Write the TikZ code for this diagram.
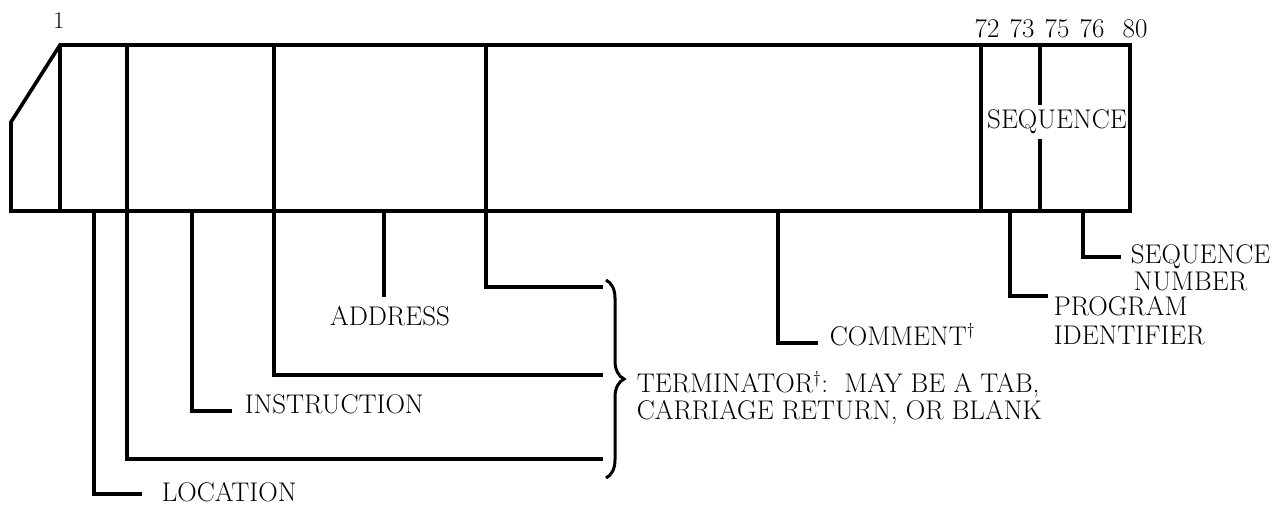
\documentclass[tikz,border=0pt]{standalone}
\usetikzlibrary{decorations.pathreplacing}
\begin{document}
\begin{tikzpicture}[x=1pt,y=-1pt,line width=3.6pt,line join=miter,
  lbl/.style={inner sep=0pt,font=\fontsize{27}{29}\selectfont},
  num/.style={inner sep=0pt,font=\fontsize{27}{29}\selectfont},
  lead/.style={line width=3.4pt}]
\useasboundingbox (0,0) rectangle (1275,507);
% card
\coordinate (tl) at (60,45);
\coordinate (tr) at (1130,45);
\coordinate (br) at (1130,211);
\coordinate (bl) at (11,211);
\coordinate (cut) at (11,122);
\draw (tl) -- (tr) -- (br) -- (bl) -- (cut) -- cycle;
\foreach \x/\n in {60/a,127/b,274/c,486/d,981/e,1040/f}{
  \coordinate (top\n) at (\x,45);
  \coordinate (bot\n) at (\x,211);
  \draw (top\n) -- (bot\n);
}
\node[lbl,fill=white,inner ysep=5pt] (seq) at (1057,122) {SEQUENCE};
% column numbers
\node[inner sep=0pt,font=\fontsize{24}{26}\selectfont] (n1) at (59,21) {1};
\node[num] (n72) at (987,29) {72};
\node[num] (n73) at (1022,29) {73};
\node[num] (n75) at (1057,29) {75};
\node[num] (n76) at (1092,29) {76};
\node[num] (n80) at (1135,29) {80};
% labels
\node[lbl,anchor=west] (loc) at (160,492) {LOCATION};
\node[lbl,anchor=west] (ins) at (243,404) {INSTRUCTION};
\node[lbl] (adr) at (390,316) {ADDRESS};
\node[lbl,anchor=base west] (com) at (828,345) {COMMENT$^\dagger$};
\node[lbl,anchor=west,align=left,font=\fontsize{27}{29}\selectfont] (pid) at (1052,321) {PROGRAM\\IDENTIFIER};
\node[lbl,anchor=west,align=left,font=\fontsize{27}{27}\selectfont] (sqn) at (1129,268) {SEQUENCE\\\hspace{3pt}NUMBER};
\node[lbl,anchor=west,align=left,font=\fontsize{27}{27}\selectfont] (term) at (635,398) {TERMINATOR$^\dagger$:\ \ MAY BE A TAB,\\CARRIAGE RETURN,\ OR BLANK};
% leader coordinates
\coordinate (locA) at (94,211);   \coordinate (locB) at (142,494);
\coordinate (insA) at (192,211);  \coordinate (insB) at (232,411);
\coordinate (adrA) at (384,211);  \coordinate (adrB) at (384,297);
\coordinate (comA) at (778,211);  \coordinate (comB) at (818,343);
\coordinate (pidA) at (1010,211); \coordinate (pidB) at (1048,296);
\coordinate (sqnA) at (1083,211); \coordinate (sqnB) at (1121,257);
\coordinate (t1) at (603,459);
\coordinate (t2) at (603,375);
\coordinate (t3) at (603,287);
\draw[lead] (locA) |- (locB);
\draw[lead] (insA) |- (insB);
\draw[lead] (adrA) -- (adrB);
\draw[lead] (comA) |- (comB);
\draw[lead] (pidA) |- (pidB);
\draw[lead] (sqnA) |- (sqnB);
\draw[lead] (botb) |- (t1);
\draw[lead] (botc) |- (t2);
\draw[lead] (botd) |- (t3);
% brace
\coordinate (bra) at (606,280);
\coordinate (brb) at (606,478);
\draw[line width=3pt,decorate,decoration={brace,amplitude=18pt}] (bra) -- (brb);
\end{tikzpicture}
\end{document}
